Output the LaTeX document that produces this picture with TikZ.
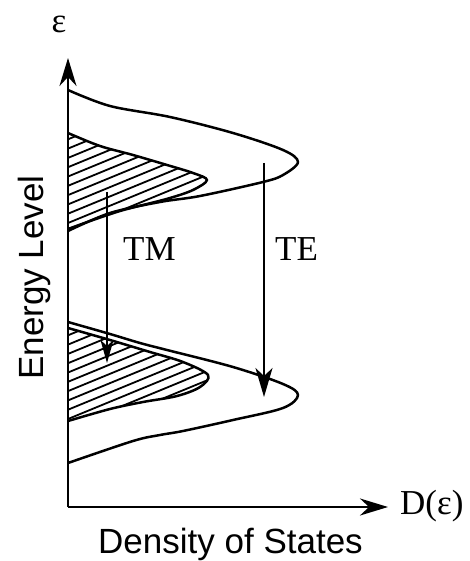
\documentclass[tikz,border=0pt]{standalone}
\usepackage{fontspec}
\setmainfont{Liberation Serif}
\newfontfamily\hv{Liberation Sans}
\usetikzlibrary{arrows.meta}
\tikzset{
  curve/.style={line width=2.5pt, smooth, tension=0.55, line join=round},
  hatchline/.style={line width=1.8pt},
  axis/.style={line width=2.6pt, -{Stealth[length=28pt,width=17pt,inset=9pt]}},
  trans/.style={line width=1.7pt},
  lbl/.style={inner sep=0pt, font=\fontsize{35}{40}\selectfont},
  slbl/.style={inner sep=0pt, font=\hv\fontsize{35}{40}\selectfont},
}
\begin{document}
\begin{tikzpicture}[x=1pt,y=-1pt]
\useasboundingbox (0,0) rectangle (469,561);
% hatched regions
\begin{scope}
  \clip plot[smooth, tension=0.55] coordinates {(68,133) (100,146) (133,155) (167,165) (193,173) (207,180) (193,190) (170,198) (143,205) (120,211) (93,220) (68,229)} -- cycle;
  \foreach \k in {0,...,18} \draw[hatchline] (60,{124+9.3*\k}) -- ++(170,-70);
\end{scope}
\begin{scope}
  \clip plot[smooth, tension=0.55] coordinates {(68,328) (110,340) (150,352) (183,362) (208,375) (200,387) (177,396) (143,402) (110,409) (68,421)} -- cycle;
  \foreach \k in {0,...,18} \draw[hatchline] (60,{320+9.3*\k}) -- ++(170,-70);
\end{scope}
\draw[curve] plot coordinates {(68,133) (100,146) (133,155) (167,165) (193,173) (207,180) (193,190) (170,198) (143,205) (120,211) (93,220) (68,229)};
\draw[curve] plot coordinates {(68,328) (110,340) (150,352) (183,362) (208,375) (200,387) (177,396) (143,402) (110,409) (68,421)};
% big bands
\draw[curve] plot coordinates {(68,90) (110,106) (170,117) (233,133) (283,150) (298,162) (283,175) (263,182) (200,196) (160,202) (110,213) (68,231)};
\draw[curve] plot coordinates {(68,322) (110,334) (140,343) (167,350) (233,367) (283,384) (298,395) (283,408) (233,420) (183,431) (160,435) (133,441) (68,463)};
% axes
\coordinate (O) at (68,507);
\coordinate (ytip) at (68,58);
\coordinate (xtip) at (388,507);
\draw[axis] (O) -- (ytip);
\draw[axis] (O) -- (xtip);
% transitions
\coordinate (tm1) at (107,192);
\coordinate (tm2) at (107,363);
\coordinate (te1) at (264,163);
\coordinate (te2) at (264,397);
\draw[trans, -{Stealth[length=23pt,width=13pt,inset=6pt]}] (tm1) -- (tm2);
\draw[trans, -{Stealth[length=29pt,width=17pt,inset=8pt]}] (te1) -- (te2);
% labels
\node[lbl] (eps) at (59,24) {ε};
\node[lbl, anchor=base west] (tm) at (123,260) {TM};
\node[lbl, anchor=base west] (te) at (275,260) {TE};
\node[lbl, anchor=base west] (deps) at (400,514) {D(ε)};
\node[slbl, anchor=base west] (dos) at (98,553) {Density of States};
\node[slbl, anchor=base west, rotate=90] (el) at (43,380) {Energy Level};
\end{tikzpicture}
\end{document}
